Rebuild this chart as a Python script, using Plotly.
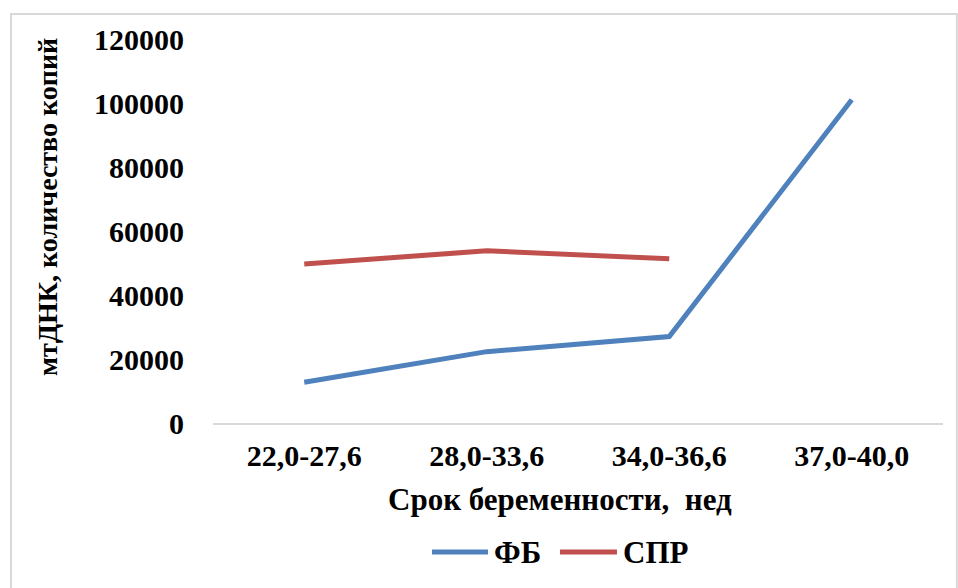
import plotly.graph_objects as go

# Gestational age groups (weeks)
categories = ["22,0-27,6", "28,0-33,6", "34,0-36,6", "37,0-40,0"]
# mtDNA copy numbers per group
fb_values = [12750, 22300, 27000, 101000]
spr_values = [49700, 53800, 51300, None]
y_ticks = [0, 20000, 40000, 60000, 80000, 100000, 120000]

FONT = "Liberation Serif, Times New Roman, serif"
BLUE = "#4F81BD"
RED = "#C0504D"

fig = go.Figure()
fig.add_trace(go.Scatter(
    x=categories, y=fb_values, name="ФБ", mode="lines",
    line=dict(color=BLUE, width=5), showlegend=False,
))
fig.add_trace(go.Scatter(
    x=categories, y=spr_values, name="СПР", mode="lines",
    line=dict(color=RED, width=5), showlegend=False,
))

fig.update_layout(
    width=958, height=588,
    margin=dict(l=213, r=15, t=39, b=165),
    paper_bgcolor="white", plot_bgcolor="white",
    font=dict(family=FONT, size=30, color="black", weight=700),
)
fig.update_xaxes(
    type="category", showgrid=False, showline=True, linecolor="#D9D9D9",
    linewidth=1.5, ticks="", tickfont=dict(size=30, weight=700),
    ticklabelstandoff=5, range=[-0.5, 3.5],
)
fig.update_yaxes(
    range=[0, 120000], tickvals=y_ticks, ticktext=[str(v) for v in y_ticks],
    showgrid=False, showline=False, zeroline=False, ticks="",
    tickfont=dict(size=30, weight=700), ticklabelstandoff=28,
)

# Axis titles
fig.add_annotation(
    text="мтДНК, количество копий", xref="paper", yref="paper",
    x=-0.2767 + 0.0494, y=0.5625, xanchor="center", yanchor="middle",
    textangle=-90, showarrow=False,
    font=dict(family=FONT, size=28, weight=700),
)
fig.add_annotation(
    text="Срок беременности,  нед", xref="paper", yref="paper",
    x=0.475, y=-0.2005, xanchor="center", yanchor="middle", showarrow=False,
    font=dict(family=FONT, size=31, weight=700),
)

# Legend below the axis title
legend_y = -0.336
for name, color, x0, x1 in [("ФБ", BLUE, 0.300, 0.3767), ("СПР", RED, 0.4753, 0.5534)]:
    fig.add_shape(
        type="line", xref="paper", yref="paper",
        x0=x0, x1=x1, y0=legend_y, y1=legend_y,
        line=dict(color=color, width=5),
    )
    fig.add_annotation(
        text=name, xref="paper", yref="paper",
        x=x1 + 0.005, y=legend_y, xanchor="left", yanchor="middle",
        showarrow=False, font=dict(family=FONT, size=31, weight=700),
    )

# Chart area border
fig.add_shape(
    type="rect", xref="paper", yref="paper",
    x0=-0.2767, x1=1.019, y0=-0.5, y1=1.065,
    line=dict(color="#D9D9D9", width=2), fillcolor="rgba(0,0,0,0)",
)

fig.write_html("out.html")
